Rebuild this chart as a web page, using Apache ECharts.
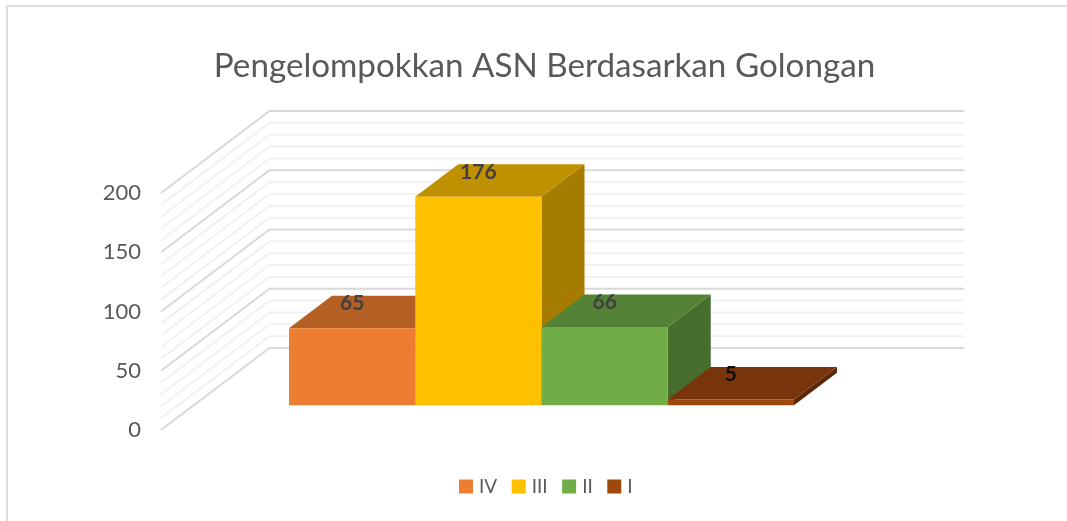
<!DOCTYPE html>
<html>
<head>
<meta charset="utf-8">
<style>html,body{margin:0;padding:0;background:#fff}#c{width:1067px;height:521px}</style>
<script src="https://cdn.jsdelivr.net/npm/echarts@6/dist/echarts.min.js"></script>
</head>
<body>
<div id="c"></div>
<script>
var categories = ['Golongan'];
var seriesNames = ['IV', 'III', 'II', 'I'];
var valuesIV = [65];
var valuesIII = [176];
var valuesII = [66];
var valuesI = [5];
var majorTicks = [0, 50, 100, 150, 200];
var minorTicks = [10, 20, 30, 40, 60, 70, 80, 90, 110, 120, 130, 140, 160, 170, 180, 190];

var frontColors = ['#ED7D31', '#FFC000', '#70AD47', '#9E480E'];
var topColors = ['#B45F23', '#BF9000', '#548235', '#78340B'];
var sideColors = ['#8F4A18', '#A67C00', '#476E2D', '#5C2807'];
var labelColors = ['#404040', '#404040', '#404040', '#0D0D0D'];
var FONT = 'Lato, "Open Sans", sans-serif';

// Projection of the 3D box, in pixels
var WALL_DX = 108.5, WALL_DY = -82;
var BAR_NEAR_DX = 33, BAR_NEAR_DY = -24.7;
var BAR_DEPTH_DX = 43, BAR_DEPTH_DY = -32.5;
var BAR_GAP = 95, BAR_COUNT = 4;

function gridRender(color, width) {
  return function (params, api) {
    var v = api.value(0);
    var cs = params.coordSys;
    var y = api.coord([0, v])[1];
    return {
      type: 'polyline',
      silent: true,
      shape: { points: [
        [cs.x, y],
        [cs.x + WALL_DX, y + WALL_DY],
        [cs.x + cs.width + WALL_DX, y + WALL_DY]
      ] },
      style: { stroke: color, lineWidth: width, fill: null }
    };
  };
}

function barRender(i) {
  return function (params, api) {
    var cs = params.coordSys;
    var v = api.value(1);
    var w = (cs.width - 2 * BAR_GAP) / BAR_COUNT;
    var x0 = cs.x + BAR_GAP + i * w + BAR_NEAR_DX;
    var x1 = x0 + w;
    var yTop = api.coord([0, v])[1] + BAR_NEAR_DY;
    var yBase = api.coord([0, 0])[1] + BAR_NEAR_DY;
    var dx = BAR_DEPTH_DX, dy = BAR_DEPTH_DY;
    return {
      type: 'group',
      children: [
        { type: 'polygon', shape: { points: [[x1, yTop], [x1 + dx, yTop + dy], [x1 + dx, yBase + dy], [x1, yBase]] }, style: { fill: sideColors[i] } },
        { type: 'polygon', shape: { points: [[x0, yTop], [x1, yTop], [x1 + dx, yTop + dy], [x0 + dx, yTop + dy]] }, style: { fill: topColors[i] } },
        { type: 'rect', shape: { x: x0, y: yTop, width: w, height: yBase - yTop }, style: { fill: frontColors[i] } },
        { type: 'text', style: { x: (x0 + x1) / 2, y: yTop - 25, text: String(v), fill: labelColors[i], fontFamily: FONT, fontWeight: 'bold', fontSize: 21, align: 'center', verticalAlign: 'middle' } }
      ]
    };
  };
}

function barSeries(i, values) {
  return {
    name: seriesNames[i],
    type: 'custom',
    z: 5 + i,
    clip: false,
    itemStyle: { color: frontColors[i] },
    renderItem: barRender(i),
    encode: { x: 0, y: 1 },
    data: values.map(function (v, k) { return [categories[k], v]; })
  };
}

function gridSeries(ticks, color, width, z) {
  return {
    type: 'custom',
    silent: true,
    z: z,
    clip: false,
    renderItem: gridRender(color, width),
    encode: { y: 0 },
    data: ticks.map(function (t) { return [t]; }),
    tooltip: { show: false }
  };
}

var chart = echarts.init(document.getElementById('c'), null, { renderer: 'canvas' });
chart.setOption({
  animation: false,
  backgroundColor: '#ffffff',
  title: {
    text: 'Pengelompokkan ASN Berdasarkan Golongan',
    left: 539.5,
    top: 45,
    textAlign: 'center',
    textStyle: { color: '#595959', fontFamily: FONT, fontWeight: 'normal', fontSize: 33.2 }
  },
  grid: { left: 161, right: 211, top: 193, bottom: 91 },
  xAxis: { type: 'category', data: categories, show: false },
  yAxis: {
    type: 'value', min: 0, max: 200, interval: 50,
    axisLine: { show: false }, axisTick: { show: false }, splitLine: { show: false },
    axisLabel: { color: '#595959', fontFamily: FONT, fontSize: 22, margin: 20, padding: [6, 0, 0, 0] }
  },
  legend: {
    data: seriesNames,
    left: 454, top: 472,
    icon: 'rect', itemWidth: 14, itemHeight: 14, itemGap: 14.5,
    selectedMode: false,
    textStyle: { color: '#595959', fontFamily: FONT, fontSize: 19, padding: [0, 0, 0, 1] }
  },
  graphic: [
    { type: 'rect', silent: true, shape: { x: 6, y: 5, width: 1061, height: 2 }, style: { fill: '#DEDEDE' } },
    { type: 'rect', silent: true, shape: { x: 6, y: 5, width: 2, height: 516 }, style: { fill: '#DEDEDE' } }
  ],
  series: [
    gridSeries(minorTicks, '#F1F1F1', 2, 1),
    gridSeries(majorTicks, '#D9D9D9', 2, 2),
    barSeries(0, valuesIV),
    barSeries(1, valuesIII),
    barSeries(2, valuesII),
    barSeries(3, valuesI)
  ]
});
</script>
</body>
</html>
